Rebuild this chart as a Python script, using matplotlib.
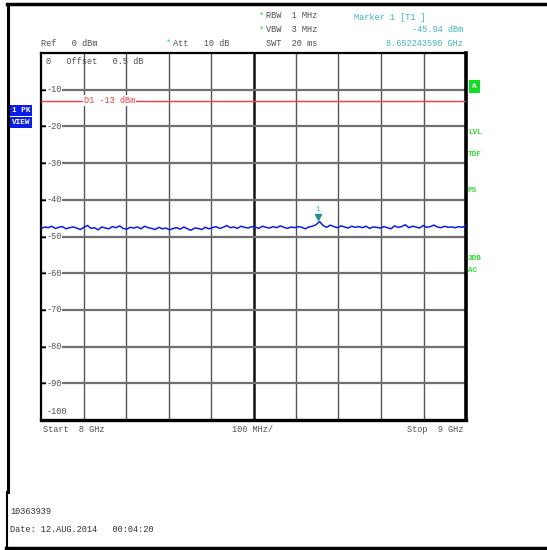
import matplotlib
matplotlib.use("Agg")
import matplotlib.pyplot as plt
import matplotlib.transforms as mtransforms
import numpy as np

# sweep settings
start_ghz = 8.0
stop_ghz = 9.0
ref_level = 0
bottom_level = -100
display_line = -13

# trace, 1 PK VIEW (dBm)
trace = [
    -47.9, -47.4, -47.6, -47.2, -47.8, -47.5, -47.3, -47.9, -47.6, -47.4,
    -47.7, -48.1, -47.5, -47.0, -47.8, -47.6, -48.2, -47.4, -47.7, -47.9,
    -47.3, -47.6, -47.1, -47.8, -48.0, -47.5, -47.7, -47.4, -47.9, -47.2,
    -47.6, -47.8, -48.1, -47.5, -47.9, -47.7, -48.2, -47.8, -47.6, -48.0,
    -47.4, -47.9, -48.3, -47.7, -47.8, -48.1, -47.5, -47.9, -47.6, -47.3,
    -47.8, -47.5, -47.0, -47.6, -47.4, -47.8, -47.2, -47.5, -47.7, -47.3,
    -47.4, -47.8, -47.2, -47.5, -47.7, -47.3, -47.6, -47.1, -47.5, -47.8,
    -47.4, -47.6, -47.3, -47.5, -47.9, -47.4, -47.2, -46.8, -45.94, -47.0,
    -47.5, -46.9, -47.3, -47.6, -47.1, -47.4, -47.7, -47.2, -47.5, -47.3,
    -47.6, -47.2, -47.8, -47.4, -47.5, -47.7, -47.3, -47.6, -47.9, -47.1,
    -47.5, -47.3, -46.8, -47.6, -47.2, -47.4, -47.7, -47.0, -47.5, -47.3,
    -46.9, -47.4, -47.6, -47.2, -47.5, -47.4, -47.6, -47.3, -47.5, -47.0,
]
freq = np.linspace(start_ghz, stop_ghz, len(trace))

marker_f = 8.652243590
marker_level = -45.94

ylabels = ["0", "-10", "-20", "-30", "-40", "-50", "-60", "-70", "-80", "-90", "-100"]
yvals = [0, -10, -20, -30, -40, -50, -60, -70, -80, -90, -100]

W, H = 547, 550
mono = "Liberation Mono"
fs = 6.2
grey_txt = "#505050"
green = "#33dd33"
teal = "#44b4b4"
blue = "#0a1ee6"


def fx(x):
    return x / W


def fy(y):
    return 1 - y / H


fig = plt.figure(figsize=(W / 100, H / 100), dpi=100)
fig.patch.set_facecolor("white")

# outer frame of the screen copy
fig.add_artist(plt.Line2D([fx(7), fx(547)], [fy(4), fy(4)], color="black", lw=2.5))
fig.add_artist(plt.Line2D([fx(8), fx(8)], [fy(4), fy(492)], color="black", lw=2.2))
fig.add_artist(plt.Line2D([fx(6.5), fx(6.5)], [fy(492), fy(548)], color="black", lw=1.5))
fig.add_artist(plt.Line2D([fx(6), fx(547)], [fy(547.5), fy(547.5)], color="black", lw=2.5))

ax = fig.add_axes([fx(41), fy(420), (466 - 41) / W, (420 - 53) / H])
ax.set_xlim(start_ghz, stop_ghz)
ax.set_ylim(bottom_level, ref_level)

xt = np.linspace(start_ghz, stop_ghz, 11)
for i, x in enumerate(xt[1:-1], start=1):
    ax.axvline(x, color="#111111" if i == 5 else "#555555", lw=1.8 if i == 5 else 1.0, zorder=1)
for y in yvals[1:-1]:
    ax.axhline(y, color="#707070", lw=1.6, zorder=1)

ax.set_xticks([])
ax.set_yticks(yvals[1:-1])
ax.tick_params(axis="y", direction="in", length=3.5, width=1, color="black", labelleft=False)
for s in ax.spines.values():
    s.set_linewidth(1.6)
ax.spines["right"].set_linewidth(2.6)
ax.spines["bottom"].set_linewidth(2.4)

# tick labels inside the grid (top one shares its line with the offset note)
for v, lab in zip(yvals, ylabels):
    if v == 0:
        lab = "0   Offset   0.5 dB"
        yy = -2.4
    elif v == -100:
        yy = -97.8
    else:
        yy = v
    ax.text(start_ghz + 0.012, yy, lab, fontsize=fs, family=mono, color=grey_txt,
            va="center", ha="left", zorder=4,
            bbox=dict(fc="white", ec="none", pad=0.4) if v not in (0, -100) else None)

# display line D1
ax.axhline(display_line, color="#f04040", lw=1.0, zorder=3)
ax.text(8.101, display_line, "D1 -13 dBm", fontsize=fs, family=mono, color="#f04040",
        va="center", ha="left", zorder=4, bbox=dict(fc="white", ec="none", pad=0.6))

# trace
ax.plot(freq, trace, color=blue, lw=1.1, zorder=5)

# marker 1
off = mtransforms.offset_copy(ax.transData, fig=fig, x=0, y=3, units="points")
ax.plot([marker_f], [marker_level], marker="v", color="#209090", markersize=4.2,
        transform=off, zorder=6, clip_on=False)
ax.text(marker_f, marker_level + 3.3, "1", fontsize=fs - 0.5, family=mono, color=teal,
        ha="center", va="center", zorder=6)

# header texts
fig.text(fx(41), fy(44), "Ref   0 dBm", fontsize=fs, family=mono, color=grey_txt, va="center")
fig.text(fx(166), fy(43), "*", fontsize=fs, family=mono, color=green, va="center")
fig.text(fx(173), fy(43), "Att   10 dB", fontsize=fs, family=mono, color=grey_txt, va="center")
fig.text(fx(259), fy(16), "*", fontsize=fs, family=mono, color=green, va="center")
fig.text(fx(266), fy(16), "RBW  1 MHz", fontsize=fs, family=mono, color=grey_txt, va="center")
fig.text(fx(259), fy(30), "*", fontsize=fs, family=mono, color=green, va="center")
fig.text(fx(266), fy(30), "VBW  3 MHz", fontsize=fs, family=mono, color=grey_txt, va="center")
fig.text(fx(266), fy(43), "SWT  20 ms", fontsize=fs, family=mono, color=grey_txt, va="center")

fig.text(fx(354), fy(17), "Marker 1 [T1 ]", fontsize=fs, family=mono, color=teal, va="center")
fig.text(fx(463), fy(30), "%.2f dBm" % marker_level, fontsize=fs, family=mono, color=teal,
         va="center", ha="right")
fig.text(fx(463), fy(43), "%.9f GHz" % marker_f, fontsize=fs, family=mono, color=teal,
         va="center", ha="right")

# left side labels
fig.text(fx(12), fy(110.5), "1 PK", fontsize=fs - 0.6, family=mono, color="white", va="center",
         weight="bold", bbox=dict(fc=blue, ec="none", pad=1.2))
fig.text(fx(12), fy(122.5), "VIEW", fontsize=fs - 0.6, family=mono, color="white", va="center",
         weight="bold", bbox=dict(fc=blue, ec="none", pad=1.2))

# right side labels
fig.text(fx(472), fy(86.5), "A", fontsize=fs - 0.6, family=mono, color="white", va="center",
         weight="bold", bbox=dict(fc="#11dd22", ec="none", pad=2.2))
for yy, lab in [(132, "LVL"), (155, "TDF"), (190, "PS"), (259, "3DB"), (271, "AC")]:
    fig.text(fx(468), fy(yy), lab, fontsize=fs - 0.6, family=mono, color=green, va="center",
             weight="bold")

# bottom texts
fig.text(fx(43), fy(430), "Start  8 GHz", fontsize=fs, family=mono, color=grey_txt, va="center")
fig.text(fx(252), fy(430), "100 MHz/", fontsize=fs, family=mono, color=grey_txt, va="center",
         ha="center")
fig.text(fx(463), fy(430), "Stop  9 GHz", fontsize=fs, family=mono, color=grey_txt, va="center",
         ha="right")
fig.text(fx(10), fy(511), "10363939", fontsize=fs, family=mono, color="#333333", va="center")
fig.text(fx(10), fy(529), "Date: 12.AUG.2014   00:04:20", fontsize=fs, family=mono,
         color="#333333", va="center")

fig.savefig("out.png", dpi=100)
